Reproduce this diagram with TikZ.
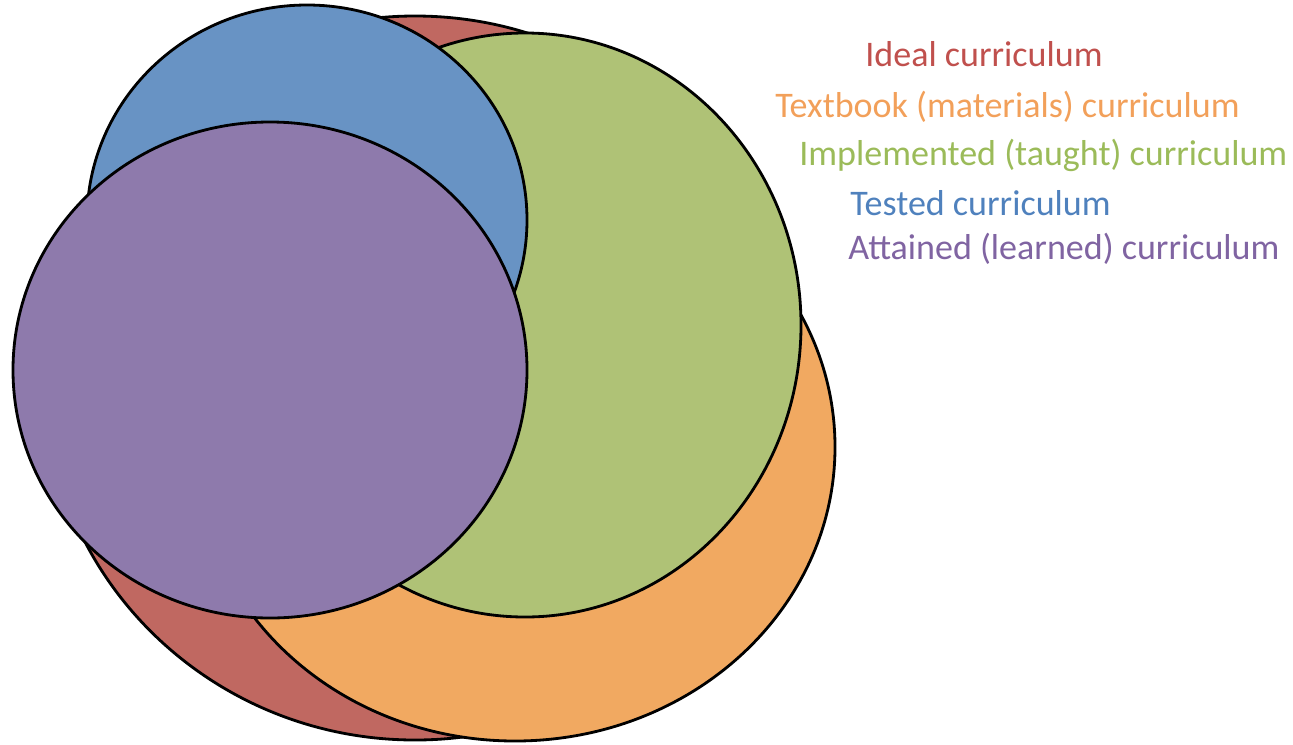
\documentclass[tikz,border=0pt]{standalone}
\usepackage{fontspec}
\setmainfont{Carlito}
\definecolor{fillred}{RGB}{192,104,97}
\definecolor{fillorange}{RGB}{241,169,97}
\definecolor{fillgreen}{RGB}{175,194,118}
\definecolor{fillblue}{RGB}{104,147,196}
\definecolor{fillpurple}{RGB}{142,122,172}
\definecolor{txtred}{RGB}{192,80,77}
\definecolor{txtorange}{RGB}{242,160,90}
\definecolor{txtgreen}{RGB}{155,187,89}
\definecolor{txtblue}{RGB}{79,129,189}
\definecolor{txtpurple}{RGB}{128,100,162}
\tikzset{
  blob/.style={draw=black,line width=1.6pt},
  lbl/.style={anchor=base west,inner sep=0pt,font=\fontsize{20.5}{24}\selectfont}
}
\begin{document}
\begin{tikzpicture}[x=0.02cm,y=-0.02cm]
		\useasboundingbox (0,0) rectangle (1293,744);
		\draw (415,378) node[](c-1){} (515,447) node[](c-2){} (525,325) node[](c-3){};
		\draw (307,220) node[](c-4){} (270,370) node[](c-5){};
		\filldraw[blob,fill=fillred] (c-1) ellipse (370 and 362);
		\filldraw[blob,fill=fillorange] (c-2) ellipse (320 and 294);
		\filldraw[blob,fill=fillgreen] (c-3) ellipse (276 and 292);
		\filldraw[blob,fill=fillblue] (c-4) ellipse (220 and 215);
		\filldraw[blob,fill=fillpurple] (c-5) ellipse (257 and 248);
		\draw (865,66) node[lbl,text=txtred](l-1){Ideal curriculum};
		\draw (775,117) node[lbl,text=txtorange](l-2){Textbook (materials) curriculum};
		\draw (799,165) node[lbl,text=txtgreen](l-3){Implemented (taught) curriculum};
		\draw (850,215) node[lbl,text=txtblue](l-4){Tested curriculum};
		\draw (848,259) node[lbl,text=txtpurple](l-5){Attained (learned) curriculum};
	\end{tikzpicture}
\end{document}
